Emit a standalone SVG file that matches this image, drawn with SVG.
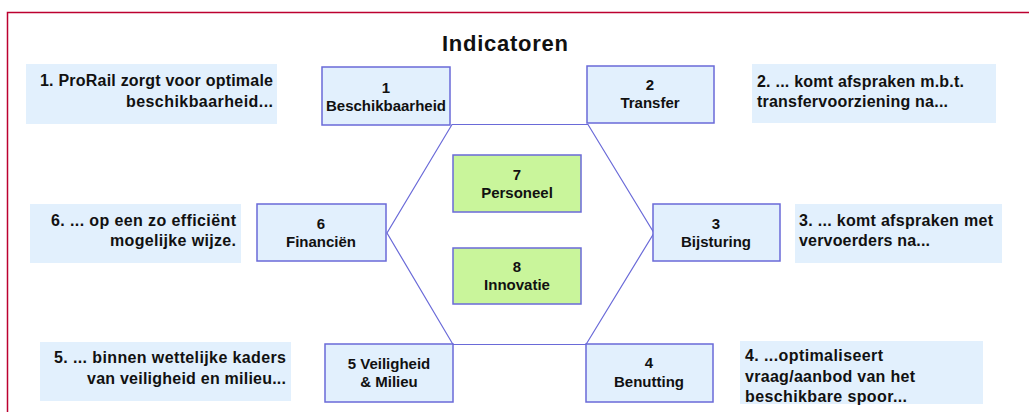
<svg xmlns="http://www.w3.org/2000/svg" width="1029" height="412" viewBox="0 0 1029 412">
<style>
.box{fill:#E2F0FD;stroke:#6A6AD8;stroke-width:1.5}
.g{fill:#C9F59B;stroke:#6A6AD8;stroke-width:1.5}
.note{fill:#E2F0FD}
.nt{font-family:"Liberation Sans",Arial,sans-serif;font-weight:bold;font-size:15px;fill:#111;text-anchor:middle}
.bt{font-family:"Liberation Sans",Arial,sans-serif;font-weight:bold;font-size:16px;fill:#111}
.r{text-anchor:end}
.conn{fill:none;stroke:#6A6AD8;stroke-width:1.2}
</style>
<rect x="0" y="0" width="1029" height="412" fill="#fff"/>
<rect x="7.5" y="12.5" width="1040" height="420" fill="none" stroke="#BC0030" stroke-width="1.5"/>
<text x="505" y="51" font-family="Liberation Sans,Arial,sans-serif" font-weight="bold" font-size="22px" fill="#111" text-anchor="middle" textLength="126" lengthAdjust="spacing">Indicatoren</text>
<g id="connectors">
<polygon class="conn" points="452,124.5 588,124.5 654,233 586,344.5 453,344.5 387,233"/>
</g>
<g id="note1"><rect class="note" x="26" y="64" width="251" height="60"/>
<text class="bt r" x="273" y="86" textLength="233" lengthAdjust="spacing">1. ProRail zorgt voor optimale</text>
<text class="bt r" x="273" y="107" textLength="147" lengthAdjust="spacing">beschikbaarheid...</text></g>
<g id="note2"><rect class="note" x="752" y="64" width="244" height="59"/>
<text class="bt" x="757" y="87" textLength="207" lengthAdjust="spacing">2. ... komt afspraken m.b.t.</text>
<text class="bt" x="757" y="107" textLength="191" lengthAdjust="spacing">transfervoorziening na...</text></g>
<g id="note6"><rect class="note" x="30" y="204" width="211" height="59"/>
<text class="bt r" x="236" y="226" textLength="185" lengthAdjust="spacing">6. ... op een zo efficiënt</text>
<text class="bt r" x="236" y="246" textLength="126" lengthAdjust="spacing">mogelijke wijze.</text></g>
<g id="note3"><rect class="note" x="795" y="204" width="207" height="59"/>
<text class="bt" x="799" y="226" textLength="194" lengthAdjust="spacing">3. ... komt afspraken met</text>
<text class="bt" x="799" y="246" textLength="131" lengthAdjust="spacing">vervoerders na...</text></g>
<g id="note5"><rect class="note" x="40" y="342" width="251" height="59"/>
<text class="bt r" x="286" y="363" textLength="232" lengthAdjust="spacing">5. ... binnen wettelijke kaders</text>
<text class="bt r" x="286" y="384" textLength="199" lengthAdjust="spacing">van veiligheid en milieu...</text></g>
<g id="note4"><rect class="note" x="740" y="341" width="243" height="63"/>
<text class="bt" x="745" y="361" textLength="138" lengthAdjust="spacing">4. ...optimaliseert</text>
<text class="bt" x="745" y="382" textLength="170" lengthAdjust="spacing">vraag/aanbod van het</text>
<text class="bt" x="745" y="402" textLength="162" lengthAdjust="spacing">beschikbare spoor...</text></g>
<g id="n1"><rect class="box" x="322" y="67" width="128" height="58"/>
<text class="nt" x="386" y="92.5">1</text><text class="nt" x="386" y="110.5">Beschikbaarheid</text></g>
<g id="n2"><rect class="box" x="587" y="66" width="127" height="57"/>
<text class="nt" x="650" y="89.5">2</text><text class="nt" x="650" y="107.5">Transfer</text></g>
<g id="n6"><rect class="box" x="257" y="204" width="129" height="57"/>
<text class="nt" x="321" y="228.5">6</text><text class="nt" x="321" y="246.5">Financiën</text></g>
<g id="n3"><rect class="box" x="653" y="204" width="127" height="57"/>
<text class="nt" x="716" y="228.5">3</text><text class="nt" x="716" y="246.5">Bijsturing</text></g>
<g id="n5"><rect class="box" x="325" y="344" width="128" height="58"/>
<text class="nt" x="389" y="368.5">5 Veiligheid</text><text class="nt" x="389" y="386.5">&amp; Milieu</text></g>
<g id="n4"><rect class="box" x="586" y="344" width="127" height="58"/>
<text class="nt" x="649" y="368">4</text><text class="nt" x="649" y="386.5">Benutting</text></g>
<g id="n7"><rect class="g" x="453" y="155" width="128" height="57"/>
<text class="nt" x="517" y="180">7</text><text class="nt" x="517" y="197.5">Personeel</text></g>
<g id="n8"><rect class="g" x="453" y="248" width="128" height="56"/>
<text class="nt" x="517" y="272">8</text><text class="nt" x="517" y="289.5">Innovatie</text></g>
</svg>
